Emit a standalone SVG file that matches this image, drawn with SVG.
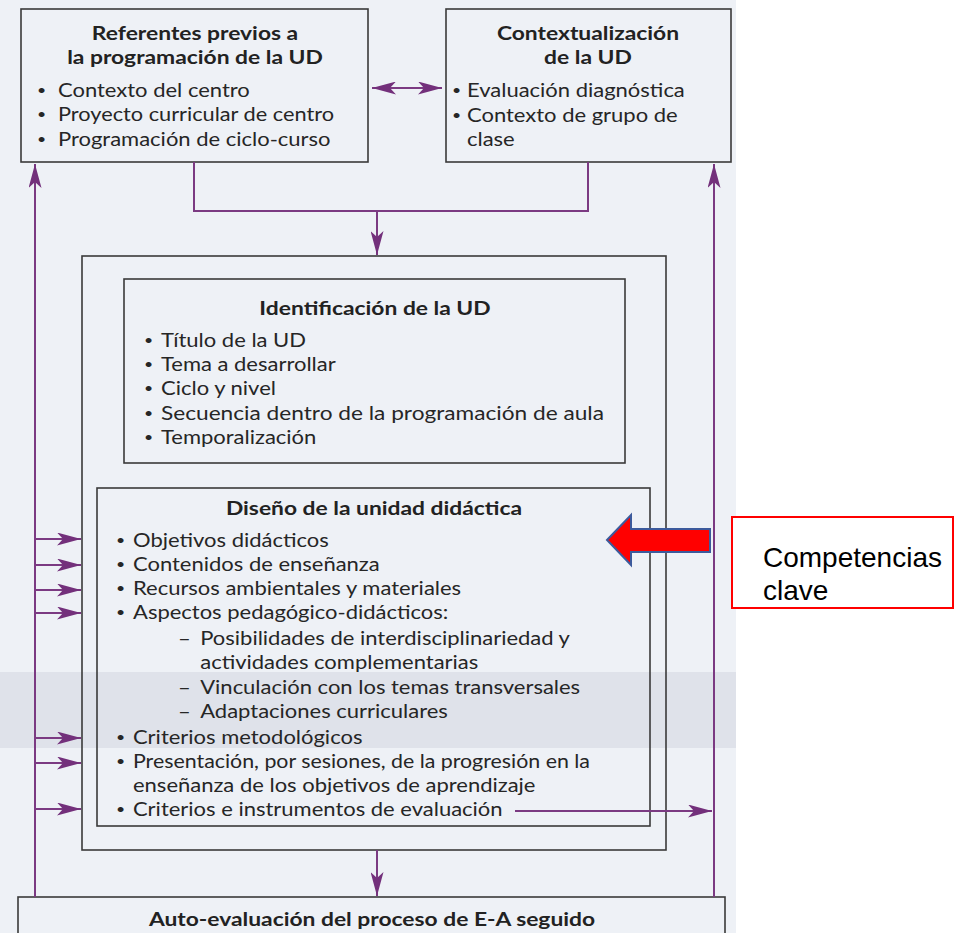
<svg xmlns="http://www.w3.org/2000/svg" width="955" height="933" viewBox="0 0 955 933">
<style>
.box{fill:none;stroke:#3a3a3a;stroke-width:1.6}
.t{font-family:Lato,"Open Sans",sans-serif;font-size:19.5px;fill:#262626}
.b{font-size:14px}
.h{font-family:Lato,"Open Sans",sans-serif;font-size:19.5px;font-weight:bold;fill:#222;text-anchor:middle}
.c{fill:none;stroke:#7b3a82;stroke-width:2}
.k{font-family:"Liberation Sans",Arial,sans-serif;font-size:28px;fill:#000}
</style>
<defs>
<marker id="ah" viewBox="0 0 24 13" refX="24" refY="6.5" markerWidth="24" markerHeight="13" orient="auto-start-reverse" markerUnits="userSpaceOnUse">
<path d="M0,0 L24,6.5 L0,13 L6,6.5 Z" fill="#73307b"/>
</marker>
</defs>
<rect x="0" y="0" width="955" height="933" fill="#ffffff"/>
<rect x="0" y="0" width="736" height="933" fill="#eef1f6"/>
<rect x="0" y="672" width="736" height="76" fill="#dfe2ea"/>

<g id="referentes">
<rect class="box" x="21" y="9" width="347" height="153"/>
<text class="h" transform="translate(195,40) scale(1.17,1)">Referentes previos a</text>
<text class="h" transform="translate(195,64) scale(1.17,1)">la programación de la UD</text>
<g transform="translate(58,0) scale(1.128,1)">
<text class="t" y="97"><tspan class="b" x="-18.6" dy="-2">•</tspan><tspan x="0" dy="2">Contexto del centro</tspan></text>
<text class="t" y="121"><tspan class="b" x="-18.6" dy="-2">•</tspan><tspan x="0" dy="2" textLength="244.7" lengthAdjust="spacingAndGlyphs">Proyecto curricular de centro</tspan></text>
<text class="t" y="146"><tspan class="b" x="-18.6" dy="-2">•</tspan><tspan x="0" dy="2">Programación de ciclo-curso</tspan></text>
</g>
</g>

<g id="contextualizacion">
<rect class="box" x="446" y="9" width="285" height="153"/>
<text class="h" transform="translate(588,40) scale(1.17,1)">Contextualización</text>
<text class="h" transform="translate(588,64) scale(1.17,1)">de la UD</text>
<g transform="translate(467,0) scale(1.128,1)">
<text class="t" y="97"><tspan class="b" x="-13.3" dy="-2">•</tspan><tspan x="0" dy="2">Evaluación diagnóstica</tspan></text>
<text class="t" y="122"><tspan class="b" x="-13.3" dy="-2">•</tspan><tspan x="0" dy="2">Contexto de grupo de</tspan></text>
<text class="t" y="146"><tspan x="0">clase</tspan></text>
</g>
</g>

<g id="programacion">
<rect class="box" x="82" y="256" width="584" height="594"/>
</g>

<g id="identificacion">
<rect class="box" x="124" y="279" width="501" height="184"/>
<text class="h" transform="translate(375,315) scale(1.17,1)">Identificación de la UD</text>
<g transform="translate(161,0) scale(1.128,1)">
<text class="t" y="347"><tspan class="b" x="-15.1" dy="-2">•</tspan><tspan x="0" dy="2">Título de la UD</tspan></text>
<text class="t" y="371"><tspan class="b" x="-15.1" dy="-2">•</tspan><tspan x="0" dy="2">Tema a desarrollar</tspan></text>
<text class="t" y="395"><tspan class="b" x="-15.1" dy="-2">•</tspan><tspan x="0" dy="2">Ciclo y nivel</tspan></text>
<text class="t" y="420"><tspan class="b" x="-15.1" dy="-2">•</tspan><tspan x="0" dy="2" textLength="392.7" lengthAdjust="spacingAndGlyphs">Secuencia dentro de la programación de aula</tspan></text>
<text class="t" y="444"><tspan class="b" x="-15.1" dy="-2">•</tspan><tspan x="0" dy="2">Temporalización</tspan></text>
</g>
</g>

<g id="diseno">
<rect class="box" x="97" y="488" width="553" height="338"/>
<text class="h" transform="translate(374,515) scale(1.17,1)">Diseño de la unidad didáctica</text>
<g transform="translate(133,0) scale(1.128,1)">
<text class="t" y="547"><tspan class="b" x="-15.1" dy="-2">•</tspan><tspan x="0" dy="2">Objetivos didácticos</tspan></text>
<text class="t" y="571"><tspan class="b" x="-15.1" dy="-2">•</tspan><tspan x="0" dy="2">Contenidos de enseñanza</tspan></text>
<text class="t" y="595"><tspan class="b" x="-15.1" dy="-2">•</tspan><tspan x="0" dy="2">Recursos ambientales y materiales</tspan></text>
<text class="t" y="619"><tspan class="b" x="-15.1" dy="-2">•</tspan><tspan x="0" dy="2">Aspectos pedagógico-didácticos:</tspan></text>
<text class="t" y="645"><tspan x="39.9">–</tspan><tspan x="59.6">Posibilidades de interdisciplinariedad y</tspan></text>
<text class="t" y="669"><tspan x="59.6">actividades complementarias</tspan></text>
<text class="t" y="694"><tspan x="39.9">–</tspan><tspan x="59.6">Vinculación con los temas transversales</tspan></text>
<text class="t" y="718"><tspan x="39.9">–</tspan><tspan x="59.6">Adaptaciones curriculares</tspan></text>
<text class="t" y="744"><tspan class="b" x="-15.1" dy="-2">•</tspan><tspan x="0" dy="2">Criterios metodológicos</tspan></text>
<text class="t" y="768"><tspan class="b" x="-15.1" dy="-2">•</tspan><tspan x="0" dy="2" textLength="405.1" lengthAdjust="spacingAndGlyphs">Presentación, por sesiones, de la progresión en la</tspan></text>
<text class="t" y="792"><tspan x="0">enseñanza de los objetivos de aprendizaje</tspan></text>
<text class="t" y="816"><tspan class="b" x="-15.1" dy="-2">•</tspan><tspan x="0" dy="2">Criterios e instrumentos de evaluación</tspan></text>
</g>
</g>

<g id="autoevaluacion">
<rect class="box" x="18" y="897" width="707" height="50"/>
<text class="h" transform="translate(372,926) scale(1.17,1)">Auto-evaluación del proceso de E-A seguido</text>
</g>

<g id="competencias">
<rect x="732" y="517" width="221" height="91" fill="#ffffff" stroke="#ff0000" stroke-width="2"/>
<text class="k" x="763" y="567">Competencias</text>
<text class="k" x="763" y="600">clave</text>
</g>

<g id="red-arrow">
<polygon points="607,540 631,515 631,529 710,529 710,552 631,552 631,565" fill="#ff0000" stroke="#3c5a9c" stroke-width="2" stroke-linejoin="miter"/>
</g>

<g id="connectors">
<line class="c" x1="372" y1="88" x2="442" y2="88" marker-start="url(#ah)" marker-end="url(#ah)"/>
<polyline class="c" points="194,162 194,211 588,211 588,162"/>
<line class="c" x1="377" y1="211" x2="377" y2="255" marker-end="url(#ah)"/>
<line class="c" x1="35" y1="897" x2="35" y2="164" marker-end="url(#ah)"/>
<line class="c" x1="714" y1="897" x2="714" y2="164" marker-end="url(#ah)"/>
<line class="c" x1="35" y1="539" x2="81" y2="539" marker-end="url(#ah)"/>
<line class="c" x1="35" y1="565" x2="81" y2="565" marker-end="url(#ah)"/>
<line class="c" x1="35" y1="590" x2="81" y2="590" marker-end="url(#ah)"/>
<line class="c" x1="35" y1="613" x2="81" y2="613" marker-end="url(#ah)"/>
<line class="c" x1="35" y1="738" x2="81" y2="738" marker-end="url(#ah)"/>
<line class="c" x1="35" y1="763" x2="81" y2="763" marker-end="url(#ah)"/>
<line class="c" x1="35" y1="809" x2="81" y2="809" marker-end="url(#ah)"/>
<line class="c" x1="515" y1="811" x2="712" y2="811" marker-end="url(#ah)"/>
<line class="c" x1="377" y1="850" x2="377" y2="896" marker-end="url(#ah)"/>
</g>
</svg>
